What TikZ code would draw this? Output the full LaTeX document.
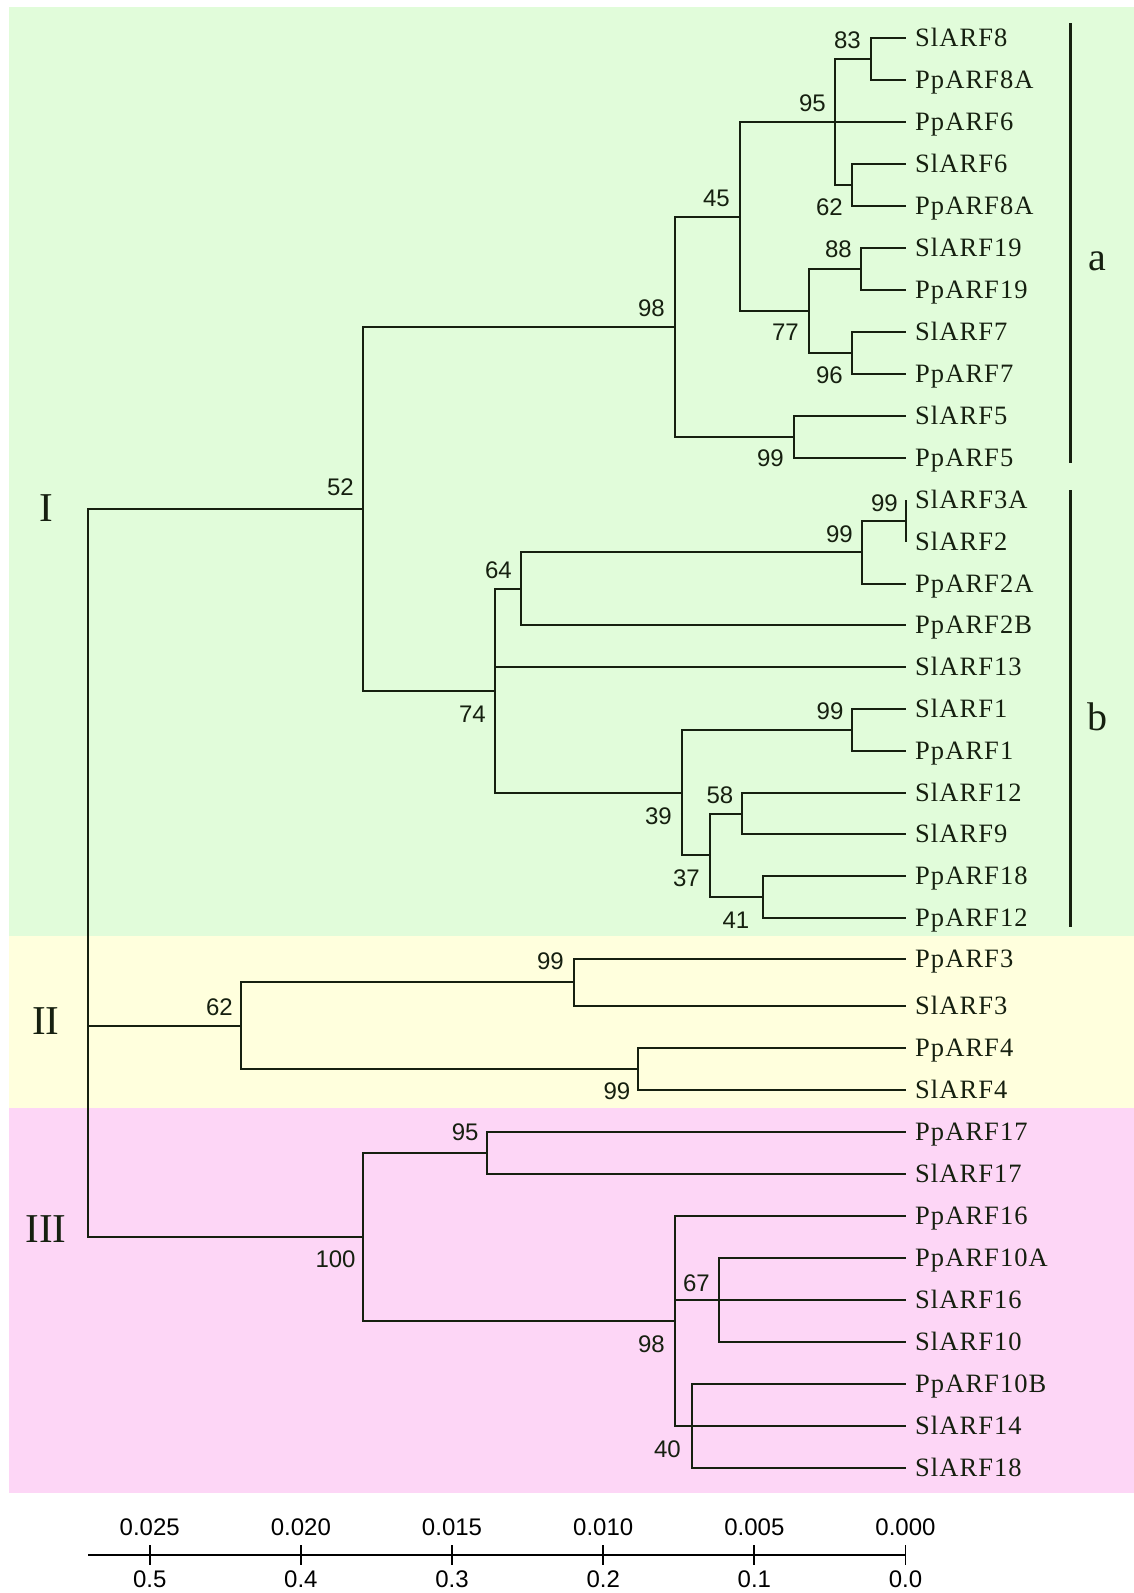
\documentclass[tikz,border=0pt]{standalone}
\usepackage{fontspec}
\setmainfont{Liberation Serif}
\newfontfamily\leaffont[LetterSpace=4]{Liberation Serif}
\newfontfamily\numfont{Liberation Sans}
\definecolor{bggreen}{RGB}{225,252,218}
\definecolor{bgyellow}{RGB}{255,255,221}
\definecolor{bgpink}{RGB}{253,214,246}
\definecolor{ink}{RGB}{22,32,16}
\begin{document}
\begin{tikzpicture}[x=1pt,y=-1pt,
  branch/.style={line width=2pt, draw=ink},
  cladebar/.style={line width=3pt, draw=ink},
  axisline/.style={line width=2.6pt, draw=black},
  tickline/.style={line width=1.8pt, draw=black},
  leaf/.style={anchor=base west, inner sep=0pt, text=ink, font=\leaffont\fontsize{26.5}{26.5}\selectfont},
  bs/.style={anchor=east, inner sep=0pt, text=ink, font=\numfont\fontsize{24}{24}\selectfont},
  axlab/.style={anchor=center, inner sep=0pt, text=black, font=\numfont\fontsize{24}{24}\selectfont},
  roman/.style={anchor=center, inner sep=0pt, text=ink, font=\fontsize{41}{41}\selectfont},
  cladelab/.style={anchor=base, inner sep=0pt, text=ink, font=\fontsize{40}{40}\selectfont}]
\useasboundingbox (0,0) rectangle (1134,1593);
% backgrounds
\fill[bggreen] (9,7) rectangle (1134,936);
\fill[bgyellow] (9,936) rectangle (1134,1108);
\fill[bgpink] (9,1108) rectangle (1134,1493);
% leaves
\foreach \i/\y/\n in {0/38/SlARF8,1/80/PpARF8A,2/122/PpARF6,3/164/SlARF6,4/206/PpARF8A,
  5/248/SlARF19,6/290/PpARF19,7/332/SlARF7,8/374/PpARF7,9/416/SlARF5,10/458/PpARF5,
  11/500/SlARF3A,12/542/SlARF2,13/584/PpARF2A,14/625/PpARF2B,15/667/SlARF13,
  16/709/SlARF1,17/751/PpARF1,18/793/SlARF12,19/834/SlARF9,20/876/PpARF18,
  21/918/PpARF12,22/959/PpARF3,23/1006/SlARF3,24/1048/PpARF4,25/1090/SlARF4,
  26/1132/PpARF17,27/1174/SlARF17,28/1216/PpARF16,29/1258/PpARF10A,
  30/1300/SlARF16,31/1342/SlARF10,32/1384/PpARF10B,33/1426/SlARF14,34/1468/SlARF18}
{
  \coordinate (t\i) at (906,\y);
  \node[leaf] (L\i) at (915,\y+8.5) {\n};
}
% internal nodes
\coordinate (n83) at (871,59);
\coordinate (n62a) at (852,185);
\coordinate (n95) at (835,122);
\coordinate (n88) at (861,269);
\coordinate (n96) at (852,353);
\coordinate (n77) at (809,311);
\coordinate (n45) at (740,217);
\coordinate (n99a) at (794,437);
\coordinate (n98a) at (675,327);
\coordinate (n99b1) at (906,521);
\coordinate (n99b2) at (862,552);
\coordinate (n64) at (521,589);
\coordinate (n99b3) at (852,730);
\coordinate (n58) at (742,814);
\coordinate (n41) at (763,897);
\coordinate (n37) at (710,855);
\coordinate (n39) at (682,793);
\coordinate (n74) at (495,691);
\coordinate (n52) at (363,509);
\coordinate (n99c) at (574,982);
\coordinate (n99d) at (638,1069);
\coordinate (n62b) at (241,1026);
\coordinate (n95b) at (487,1153);
\coordinate (n67) at (719,1300);
\coordinate (n40) at (692,1426);
\coordinate (n98b) at (675,1321);
\coordinate (n100) at (363,1237);
\coordinate (root) at (88,873);
% branches
\foreach \p/\c in {n83/t0,n83/t1,n62a/t3,n62a/t4,n95/n83,n95/t2,n95/n62a,
  n88/t5,n88/t6,n96/t7,n96/t8,n77/n88,n77/n96,n45/n95,n45/n77,n99a/t9,n99a/t10,
  n98a/n45,n98a/n99a,n99b1/t11,n99b1/t12,n99b2/n99b1,n99b2/t13,n64/n99b2,n64/t14,
  n99b3/t16,n99b3/t17,n58/t18,n58/t19,n41/t20,n41/t21,n37/n58,n37/n41,
  n39/n99b3,n39/n37,n74/n64,n74/t15,n74/n39,n52/n98a,n52/n74,
  n99c/t22,n99c/t23,n99d/t24,n99d/t25,n62b/n99c,n62b/n99d,
  n95b/t26,n95b/t27,n67/t29,n67/t30,n67/t31,n40/t32,n40/t33,n40/t34,
  n98b/t28,n98b/n67,n98b/n40,n100/n95b,n100/n98b,
  root/n52,root/n62b,root/n100}
  \draw[branch] (\p) |- (\c);
% bootstrap values
\node[bs] (b83) at (861,40.5) {83};
\node[bs] (b95) at (826,103.5) {95};
\node[bs] (b62a) at (843,207.5) {62};
\node[bs] (b45) at (730,198.5) {45};
\node[bs] (b88) at (852,249) {88};
\node[bs] (b77) at (799,332.5) {77};
\node[bs] (b96) at (843,375) {96};
\node[bs] (b99a) at (784,458) {99};
\node[bs] (b98a) at (665,308) {98};
\node[bs] (b52) at (354,487.5) {52};
\node[bs] (b99b1) at (898,503.5) {99};
\node[bs] (b99b2) at (853,534) {99};
\node[bs] (b64) at (512,570) {64};
\node[bs] (b74) at (486,714) {74};
\node[bs] (b99b3) at (843.6,711.5) {99};
\node[bs] (b39) at (672,816) {39};
\node[bs] (b58) at (733.5,795) {58};
\node[bs] (b37) at (700,878) {37};
\node[bs] (b41) at (749.5,920) {41};
\node[bs] (b62b) at (233,1007.5) {62};
\node[bs] (b99c) at (564,961.5) {99};
\node[bs] (b99d) at (630.5,1091) {99};
\node[bs] (b95b) at (478.7,1132.5) {95};
\node[bs] (b100) at (355.8,1259) {100};
\node[bs] (b98b) at (665,1344) {98};
\node[bs] (b67) at (710,1283.5) {67};
\node[bs] (b40) at (681,1449) {40};
% clade bars and labels
\coordinate (barAtop) at (1070,23);
\coordinate (barAbot) at (1070,463);
\coordinate (barBtop) at (1070,490);
\coordinate (barBbot) at (1070,927);
\draw[cladebar] (barAtop) -- (barAbot);
\draw[cladebar] (barBtop) -- (barBbot);
\node[cladelab] (la) at (1097,270) {a};
\node[cladelab] (lb) at (1097,730) {b};
\node[roman] (rI) at (46,508) {I};
\node[roman] (rII) at (46,1021) {II};
\node[roman] (rIII) at (46,1229) {III};
% scale axis
\coordinate (ax0) at (88,1555);
\coordinate (ax1) at (905.5,1555);
\draw[axisline] (ax0) -- (ax1);
\foreach \k/\top/\bot in {0/0.025/0.5,1/0.020/0.4,2/0.015/0.3,3/0.010/0.2,4/0.005/0.1,5/0.000/0.0}
{
  \coordinate (tk\k) at (149.7+151.16*\k,1555);
  \draw[tickline] ([yshift=10pt]tk\k) -- ([yshift=-10pt]tk\k);
  \node[axlab] (tl\k) at (149.7+151.16*\k,1527.5) {\top};
  \node[axlab] (bl\k) at (149.7+151.16*\k,1579) {\bot};
}
\end{tikzpicture}
\end{document}
